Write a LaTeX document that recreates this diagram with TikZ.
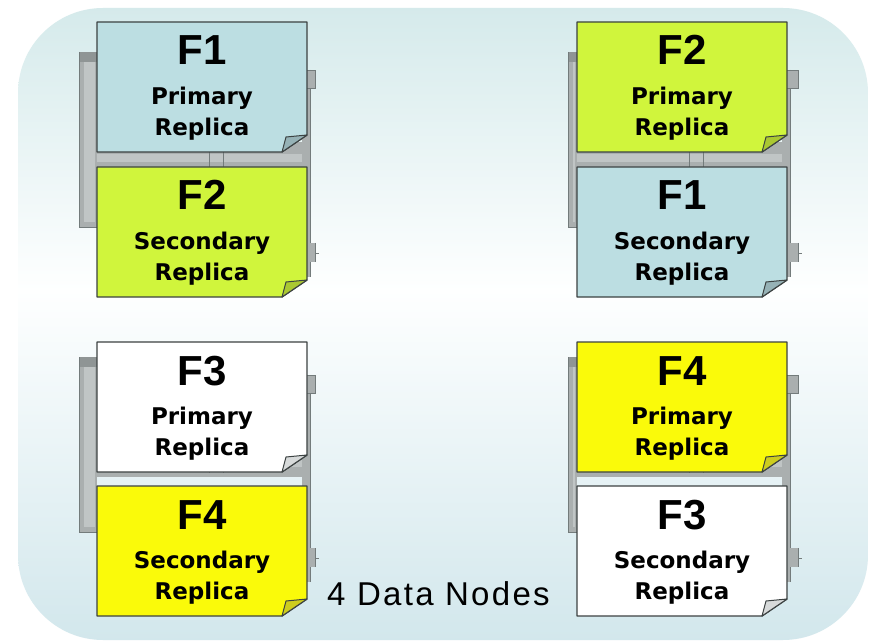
\documentclass[tikz,border=0pt]{standalone}
\usepackage{fontspec}
\setmainfont{DejaVu Sans}
\newfontfamily\headfont{Liberation Sans}
\newfontfamily\captionfont{Liberation Sans}[LetterSpace=7]

\definecolor{bgtop}{RGB}{213,234,235}
\definecolor{bgmid}{RGB}{254,255,255}
\definecolor{bgbot}{RGB}{210,231,236}
\definecolor{cardline}{RGB}{60,66,66}
\definecolor{srvbody}{RGB}{170,175,175}
\definecolor{srvlight}{RGB}{192,197,197}
\definecolor{srvdark}{RGB}{115,123,123}
\definecolor{paleblue}{RGB}{188,222,226}
\definecolor{paleblueflap}{RGB}{150,178,182}
\definecolor{lime}{RGB}{208,245,60}
\definecolor{limeflap}{RGB}{170,200,50}
\definecolor{lemon}{RGB}{250,250,10}
\definecolor{lemonflap}{RGB}{205,205,30}
\definecolor{paper}{RGB}{255,255,255}
\definecolor{paperflap}{RGB}{215,218,218}

\tikzset{
  cardedge/.style={draw=cardline, line width=1.4pt, line join=round},
  srvedge/.style={draw=srvdark, line width=0.8pt},
  headtxt/.style={anchor=base, inner sep=0pt,
    font=\headfont\bfseries\fontsize{42}{42}\selectfont},
  roletxt/.style={anchor=base, inner sep=0pt,
    font=\bfseries\fontsize{23}{23}\selectfont},
  captiontxt/.style={anchor=base west, inner sep=0pt,
    font=\captionfont\fontsize{33}{33}\selectfont},
}

% server chassis behind a pair of cards
% #1 card left edge, #2 chassis reference top, #3 left strip width, #4 right tab width
\newcommand\serverbox[4]{%
  % left side strip
  \fill[srvbody] (#1-#3,#2+30) rectangle (#1,#2+205);
  \fill[srvlight] (#1-#3+5,#2+40) rectangle (#1-2,#2+200);
  \fill[srvdark!80] (#1-#3,#2+30) rectangle (#1,#2+40);
  \draw[srvedge] (#1-#3,#2+30) -- (#1-#3,#2+205) -- (#1,#2+205);
  % band visible between the two cards
  \fill[srvbody] (#1,#2+120) rectangle (#1+212,#2+150);
  \fill[srvlight] (#1,#2+132) rectangle (#1+212,#2+140);
  \draw[srvedge] (#1+112,#2+130) -- (#1+112,#2+146)
                 (#1+126,#2+130) -- (#1+126,#2+146);
  % right side strip and its tabs
  \fill[srvbody] (#1+205,#2+48) rectangle (#1+213,#2+255);
  \draw[srvedge] (#1+213,#2+48) -- (#1+213,#2+255);
  \fill[srvbody] (#1+208,#2+48) rectangle (#1+208+#4,#2+66);
  \draw[srvedge] (#1+208,#2+48) rectangle (#1+208+#4,#2+66);
  \fill[srvbody] (#1+208,#2+221) rectangle (#1+208+#4,#2+240);
  \draw[srvedge] (#1+208+#4,#2+221) -- (#1+208+#4,#2+240);
  \draw[srvedge] (#1+208+#4,#2+231) -- (#1+212+#4,#2+231);
}

% a sticky card with a curled lower right corner
% #1 left, #2 top, #3 fill, #4 flap colour, #5 node name, #6 file, #7 role
\newcommand\replicacard[7]{%
  \filldraw[cardedge, fill=#3] (#1,#2) -- (#1+210,#2) -- (#1+210,#2+113)
     -- (#1+185,#2+130) -- (#1,#2+130) -- cycle;
  \filldraw[draw=cardline, line width=1pt, line join=round, fill=#4]
     (#1+185,#2+130) -- (#1+210,#2+113) -- (#1+189,#2+115) -- cycle;
  \node[headtxt] (#5-file) at (#1+105,#2+43) {#6};
  \node[roletxt] (#5-role) at (#1+105,#2+82.5) {#7};
  \node[roletxt] (#5-kind) at (#1+105,#2+113.5) {Replica};
}

\begin{document}
\begin{tikzpicture}[x=1pt, y=-1pt]
  \useasboundingbox (0,0) rectangle (875,644);
  \fill[white] (0,0) rectangle (875,644);
  % rounded panel: cyan at top and bottom, fading to white near the middle
  \begin{scope}
    \clip[rounded corners=85pt] (18,8) rectangle (868,640);
    \shade[top color=bgtop, bottom color=bgmid] (18,7) rectangle (868,291);
    \shade[top color=bgmid, bottom color=bgbot] (18,290) rectangle (868,641);
  \end{scope}

  % node 1
  \serverbox{97}{22}{18}{10}
  \replicacard{97}{22}{paleblue}{paleblueflap}{a1}{F1}{Primary}
  \replicacard{97}{167}{lime}{limeflap}{a2}{F2}{Secondary}

  % node 2
  \serverbox{577}{22}{9}{13}
  \replicacard{577}{22}{lime}{limeflap}{b1}{F2}{Primary}
  \replicacard{577}{167}{paleblue}{paleblueflap}{b2}{F1}{Secondary}

  % node 3
  \serverbox{97}{327}{18}{10}
  \replicacard{97}{342}{paper}{paperflap}{c1}{F3}{Primary}
  \replicacard{97}{486}{lemon}{lemonflap}{c2}{F4}{Secondary}

  % node 4
  \serverbox{577}{327}{9}{13}
  \replicacard{577}{342}{lemon}{lemonflap}{d1}{F4}{Primary}
  \replicacard{577}{486}{paper}{paperflap}{d2}{F3}{Secondary}

  \node[captiontxt] (caption) at (327,605) {4 Data Nodes};
\end{tikzpicture}
\end{document}
